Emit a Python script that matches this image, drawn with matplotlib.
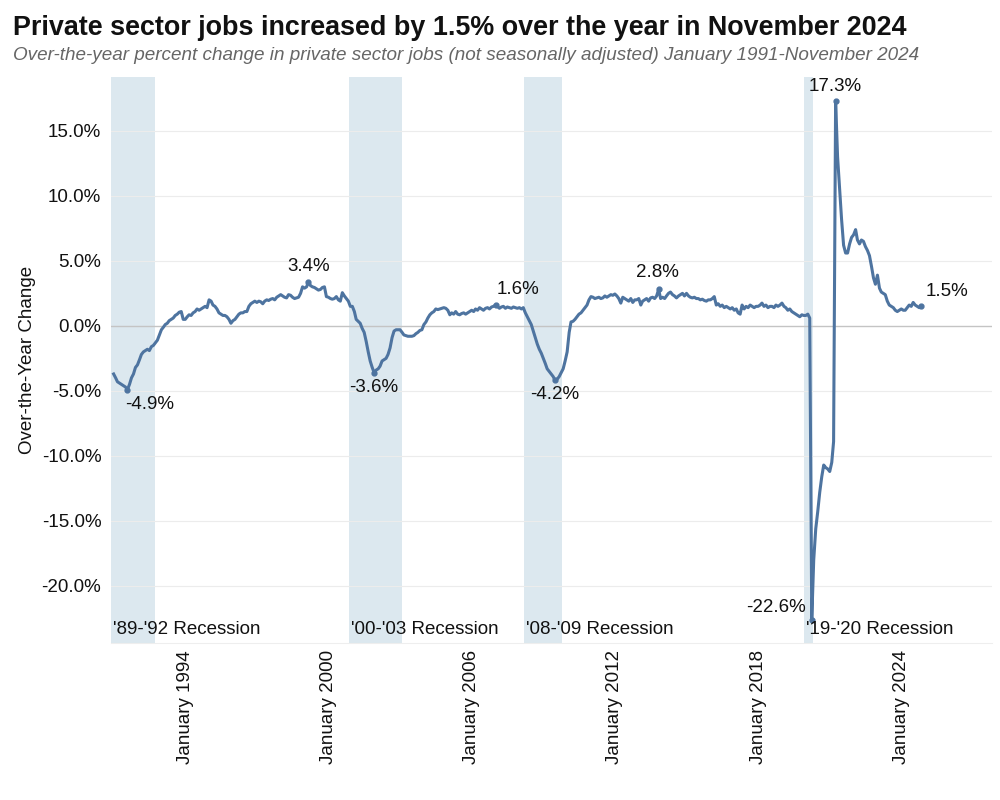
import numpy as np
import pandas as pd
import matplotlib
matplotlib.use("Agg")
import matplotlib.pyplot as plt
import matplotlib.transforms as mtransforms

plt.rcParams['font.family'] = ['Liberation Sans', 'DejaVu Sans']

# over-the-year % change, private sector jobs (NSA), monthly from Jan 1991
yoy_1991_2000 = [
    -3.7, -4.0, -4.3, -4.4, -4.5, -4.6, -4.7, -4.9, -4.5, -4.0, -3.7, -3.2,
    -3.0, -2.6, -2.2, -2.0, -1.9, -1.8, -1.9, -1.6, -1.5, -1.3, -1.1, -0.7,
    -0.3, -0.1, 0.1, 0.2, 0.4, 0.5, 0.6, 0.8, 0.9, 1.05, 1.1, 0.5,
    0.5, 0.7, 0.85, 0.8, 1.0, 1.1, 1.3, 1.2, 1.3, 1.4, 1.5, 1.4,
    2.0, 1.9, 1.6, 1.5, 1.3, 1.0, 0.9, 0.8, 0.8, 0.7, 0.5, 0.2,
    0.4, 0.5, 0.7, 0.9, 1.0, 1.0, 1.1, 1.1, 1.5, 1.7, 1.8, 1.9,
    1.8, 1.9, 1.85, 1.7, 1.9, 2.0, 1.95, 2.05, 2.1, 2.0, 2.2, 2.3,
    2.4, 2.3, 2.2, 2.15, 2.4, 2.35, 2.2, 2.1, 2.15, 2.2, 2.5, 3.0,
    2.9, 3.0, 3.4, 3.1, 3.0, 2.95, 2.85, 2.75, 2.8, 2.95, 3.0, 2.25,
    2.2, 2.1, 2.05, 2.1, 2.25, 2.0, 1.9, 2.55, 2.3, 2.1, 1.9, 1.5,
]
yoy_2001_2010 = [
    1.5, 1.1, 0.5, 0.35, 0.2, -0.2, -0.5, -1.2, -2.0, -2.7, -3.2, -3.6,
    -3.4, -3.3, -3.1, -2.7, -2.6, -2.5, -2.2, -1.7, -0.9, -0.4, -0.3, -0.3,
    -0.3, -0.5, -0.7, -0.75, -0.8, -0.8, -0.8, -0.75, -0.6, -0.5, -0.35, -0.3,
    0.1, 0.3, 0.6, 0.85, 1.0, 1.1, 1.3, 1.25, 1.3, 1.35, 1.4, 1.35,
    1.2, 0.85, 1.0, 0.9, 1.1, 0.9, 0.85, 0.95, 1.0, 0.9, 1.0, 1.1,
    1.2, 1.1, 1.3, 1.2, 1.4, 1.3, 1.2, 1.35, 1.4, 1.3, 1.45, 1.5,
    1.6, 1.5, 1.35, 1.45, 1.5, 1.35, 1.45, 1.4, 1.35, 1.45, 1.4, 1.35,
    1.4, 1.3, 1.4, 1.0, 0.7, 0.4, 0.1, -0.4, -0.9, -1.4, -1.8, -2.1,
    -2.5, -2.9, -3.3, -3.5, -3.7, -3.9, -4.2, -4.1, -3.9, -3.6, -3.3, -2.7,
    -2.0, -0.5, 0.3, 0.35, 0.5, 0.7, 0.9, 1.0, 1.2, 1.4, 1.6, 2.0,
]
yoy_2011_2020 = [
    2.25, 2.2, 2.1, 2.15, 2.2, 2.1, 2.15, 2.3, 2.2, 2.3, 2.4, 2.35,
    2.45, 2.3, 2.1, 1.75, 2.2, 2.1, 2.0, 1.9, 2.1, 1.8, 2.0, 2.0,
    2.1, 1.6, 1.9, 2.0, 2.1, 1.9, 2.15, 2.2, 2.1, 2.3, 2.8, 2.1,
    2.2, 2.1, 2.3, 2.5, 2.6, 2.4, 2.3, 2.15, 2.3, 2.4, 2.5, 2.3,
    2.5, 2.3, 2.2, 2.15, 2.2, 2.1, 2.1, 2.0, 2.05, 1.95, 1.9, 2.0,
    2.0, 2.1, 2.25, 1.6, 1.7, 1.5, 1.6, 1.4, 1.5, 1.4, 1.3, 1.4,
    1.2, 1.3, 1.0, 0.9, 1.6, 1.3, 1.5, 1.4, 1.6, 1.5, 1.4, 1.5,
    1.5, 1.6, 1.75, 1.5, 1.6, 1.4, 1.5, 1.5, 1.4, 1.6, 1.5, 1.6,
    1.75, 1.5, 1.4, 1.2, 1.3, 1.1, 1.0, 0.9, 0.8, 0.7, 0.85, 0.8,
    0.8, 0.9, 0.6, -22.6, -18.0, -15.6, -14.3, -12.8, -11.6, -10.7, -10.9, -11.0,
]
yoy_2021_2024 = [
    -11.2, -10.5, -8.9, 17.3, 13.0, 10.5, 8.2, 6.2, 5.6, 5.6, 6.3, 6.8,
    7.0, 7.4, 6.6, 6.3, 6.6, 6.5, 6.1, 5.8, 5.4, 4.6, 3.7, 3.2,
    3.9, 2.9, 2.6, 2.5, 2.4, 1.9, 1.6, 1.5, 1.4, 1.2, 1.1, 1.2,
    1.3, 1.2, 1.2, 1.4, 1.6, 1.5, 1.8, 1.6, 1.5, 1.4, 1.5,
]

recessions = [
    ("'89-'92 Recession", "1990-11-20", "1992-09-28"),
    ("'00-'03 Recession", "2000-11-10", "2003-01-25"),
    ("'08-'09 Recession", "2008-03-10", "2009-10-08"),
    ("'19-'20 Recession", "2019-12-05", "2020-04-20"),
]

# labelled points: month, label, ha, offset in points
callouts = [
    ("1991-08", "-4.9%", "center", (16, -11)),
    ("1999-03", "3.4%", "center", (0, 11)),
    ("2001-12", "-3.6%", "center", (0, -11)),
    ("2007-01", "1.6%", "center", (16, 11)),
    ("2009-07", "-4.2%", "center", (0, -10)),
    ("2013-11", "2.8%", "center", (-1, 12)),
    ("2020-04", "-22.6%", "right", (-4, 9)),
    ("2021-04", "17.3%", "center", (0, 10)),
    ("2024-11", "1.5%", "left", (3, 11)),
]

values = np.array(yoy_1991_2000 + yoy_2001_2010 + yoy_2011_2020 + yoy_2021_2024)
months = pd.date_range("1991-01-01", periods=len(values), freq="MS")
series = pd.Series(values, index=months)

line_color = "#4e74a0"
shade_color = "#dce8ef"

fig = plt.figure(figsize=(10, 8), dpi=100)
ax = fig.add_axes([0.111, 0.196, 0.881, 0.708])

trans = mtransforms.blended_transform_factory(ax.transData, ax.transAxes)
for name, start, end in recessions:
    ax.axvspan(pd.Timestamp(start), pd.Timestamp(end), color=shade_color, lw=0, zorder=0)
    ax.text(pd.Timestamp(start) + pd.Timedelta(days=25), 0.025, name, transform=trans,
            fontsize=13.5, color="#111111", ha="left", va="center", zorder=4)

for yv in [-20, -15, -10, -5, 5, 10, 15]:
    ax.axhline(yv, color="#ececec", lw=0.8, zorder=1)
ax.axhline(0, color="#c4c4c4", lw=1.0, zorder=1)

ax.plot(series.index, series.values, color=line_color, lw=2.2, zorder=3,
        solid_joinstyle="round")

for month, label, ha, offset in callouts:
    d = pd.Timestamp(month + "-01")
    v = series[d]
    ax.plot([d], [v], "o", color=line_color, ms=3.5, zorder=3)
    ax.annotate(label, (d, v), xytext=offset, textcoords="offset points",
                ha=ha, va="center", fontsize=13.5, color="#111111", zorder=5)

ax.set_xlim(pd.Timestamp("1990-11-22"), pd.Timestamp("2027-10-20"))
ax.set_ylim(-24.4, 19.15)

ax.set_yticks([-20, -15, -10, -5, 0, 5, 10, 15])
ax.set_yticklabels([f"{t:.1f}%" for t in [-20, -15, -10, -5, 0, 5, 10, 15]])
ticks = [pd.Timestamp(f"{y}-01-01") for y in range(1994, 2025, 6)]
ax.set_xticks(ticks)
ax.set_xticklabels([t.strftime("January %Y") for t in ticks], rotation=90)
ax.tick_params(axis="both", length=0, labelsize=13.5, colors="#111111")
ax.tick_params(axis="x", pad=5)
ax.tick_params(axis="y", pad=7)

for s in ["top", "right", "left"]:
    ax.spines[s].set_visible(False)
ax.spines["bottom"].set_color("#eeeeee")

ax.set_ylabel("Over-the-Year Change", fontsize=13.5, color="#111111", labelpad=4)

fig.text(0.013, 0.965, "Private sector jobs increased by 1.5% over the year in November 2024",
         fontsize=19.4, fontweight="bold", ha="left", va="center", color="#111111")
fig.text(0.013, 0.931, "Over-the-year percent change in private sector jobs (not seasonally adjusted) January 1991-November 2024",
         fontsize=13.6, style="italic", ha="left", va="center", color="#666666")

fig.savefig("out.png", dpi=100, facecolor="white")
